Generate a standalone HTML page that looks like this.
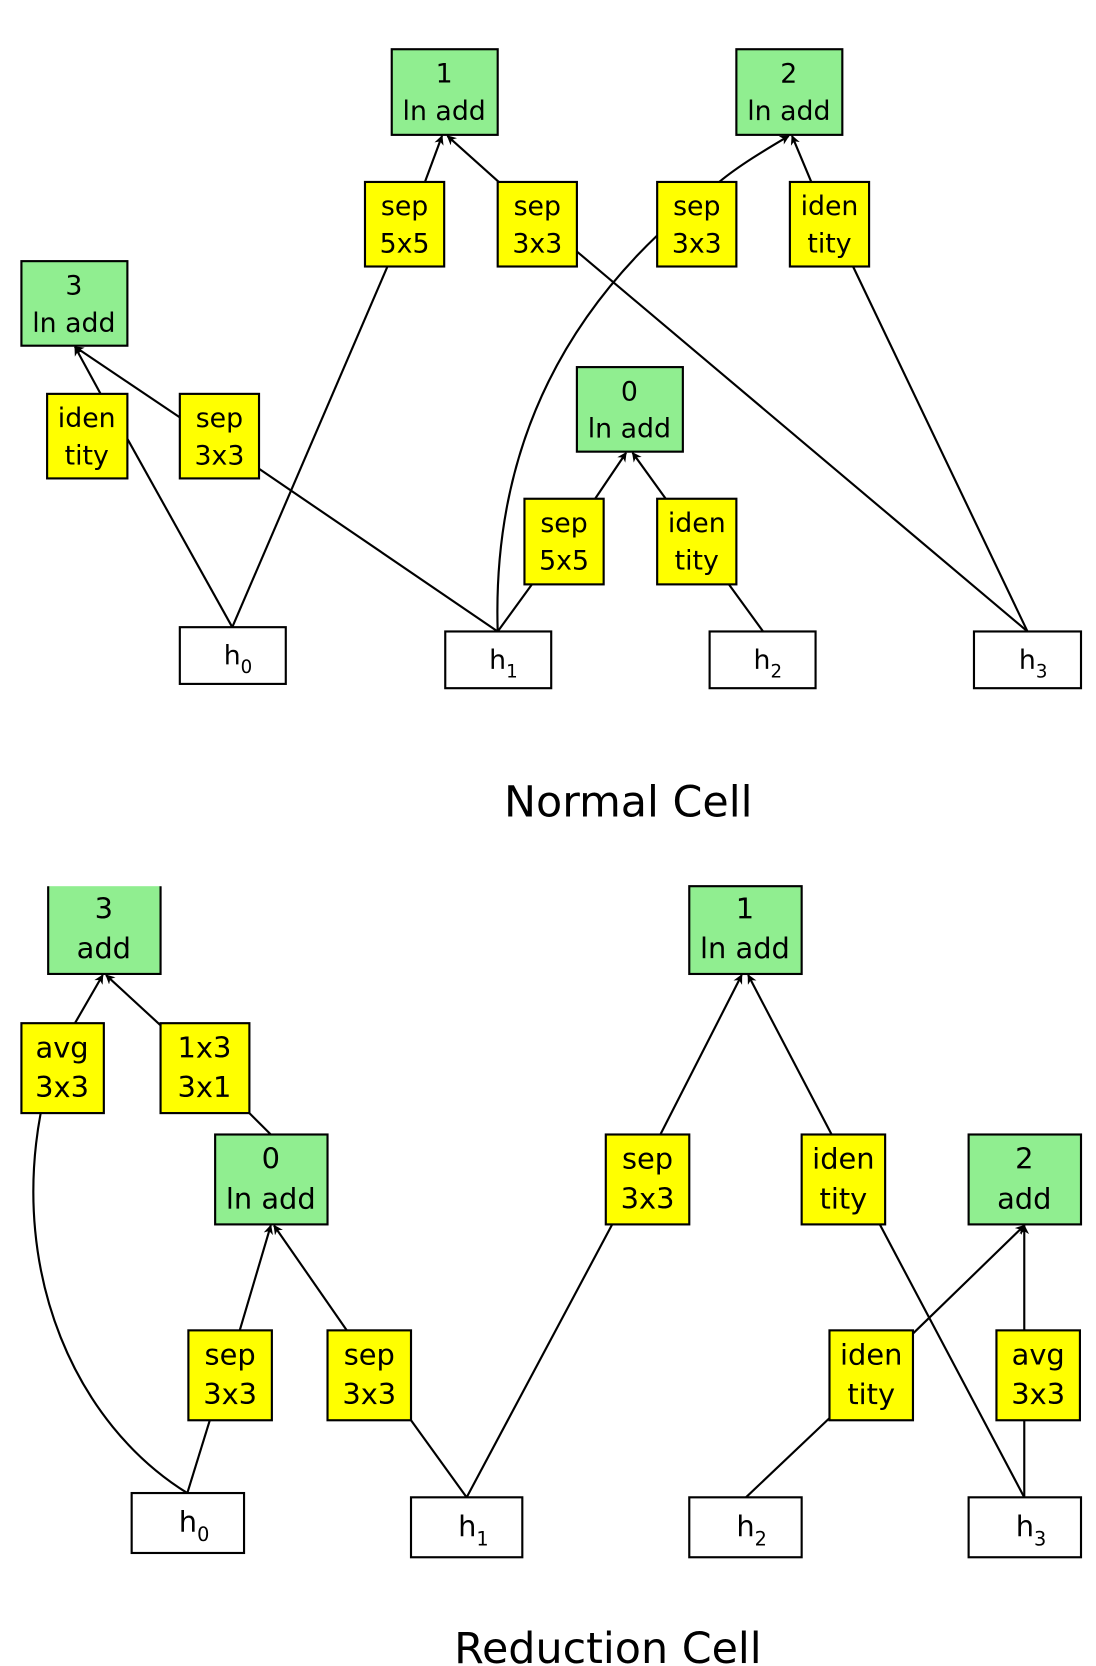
<!DOCTYPE html>
<html><head><meta charset="utf-8"><style>
html,body{margin:0;padding:0;background:#fff}
svg{display:block}
text{font-family:"DejaVu Sans","Liberation Sans",sans-serif;fill:#000}
</style></head><body>
<svg width="1096" height="1666" viewBox="0 0 1024 1556.6" xmlns="http://www.w3.org/2000/svg">
<defs>
<marker id="a" viewBox="0 0 10 10" refX="9" refY="5" markerWidth="9" markerHeight="9" markerUnits="userSpaceOnUse" orient="auto">
<path d="M0,0 L10,5 L0,10 L3,5 z" fill="#000"/></marker>
</defs>
<g stroke="#000" stroke-width="2" fill="none">
<!-- Normal cell edges -->
<line x1="217" y1="586" x2="119" y2="410"/>
<line x1="94" y1="368" x2="70" y2="324" marker-end="url(#a)"/>
<line x1="217" y1="586" x2="362" y2="249"/>
<line x1="397" y1="170" x2="413" y2="127" marker-end="url(#a)"/>
<line x1="465" y1="590" x2="242" y2="438"/>
<line x1="168" y1="390" x2="70" y2="324" marker-end="url(#a)"/>
<line x1="465" y1="590" x2="497" y2="546"/>
<line x1="556" y1="466" x2="585" y2="423" marker-end="url(#a)"/>
<path d="M465,590 C460,430 520,310 614,220"/>
<path d="M672,170 C690,155 715,140 737,127" marker-end="url(#a)"/>
<line x1="713" y1="590" x2="681" y2="546"/>
<line x1="622" y1="466" x2="591" y2="423" marker-end="url(#a)"/>
<line x1="960" y1="590" x2="539" y2="235"/>
<line x1="466" y1="170" x2="418" y2="127" marker-end="url(#a)"/>
<line x1="960" y1="590" x2="797" y2="249"/>
<line x1="758" y1="170" x2="740" y2="127" marker-end="url(#a)"/>
<!-- Reduction edges -->
<path d="M175,1395 C70,1330 10,1190 38,1040"/>
<line x1="70" y1="956" x2="96" y2="911" marker-end="url(#a)"/>
<line x1="150" y1="958" x2="99" y2="911" marker-end="url(#a)"/>
<line x1="253" y1="1060" x2="233" y2="1040"/>
<line x1="175" y1="1395" x2="196" y2="1327"/>
<line x1="224" y1="1243" x2="253" y2="1145" marker-end="url(#a)"/>
<line x1="436" y1="1399" x2="384" y2="1327"/>
<line x1="324" y1="1243" x2="256" y2="1145" marker-end="url(#a)"/>
<line x1="436" y1="1399" x2="572" y2="1144"/>
<line x1="617" y1="1060" x2="693" y2="911" marker-end="url(#a)"/>
<line x1="957" y1="1399" x2="822" y2="1144"/>
<line x1="777" y1="1060" x2="699" y2="911" marker-end="url(#a)"/>
<line x1="697" y1="1399" x2="775" y2="1325"/>
<line x1="853" y1="1246" x2="957" y2="1145" marker-end="url(#a)"/>
<line x1="957" y1="1399" x2="957" y2="1327"/>
<line x1="957" y1="1243" x2="957" y2="1145" marker-end="url(#a)"/>
</g>
<g stroke="#000" stroke-width="2">
<!-- green normal -->
<rect x="366" y="46" width="99" height="80" fill="#90ee90"/>
<rect x="688" y="46" width="99" height="80" fill="#90ee90"/>
<rect x="20" y="244" width="99" height="79" fill="#90ee90"/>
<rect x="539" y="343" width="99" height="79" fill="#90ee90"/>
<!-- yellow normal -->
<rect x="341" y="170" width="74" height="79" fill="#ffff00"/>
<rect x="465" y="170" width="74" height="79" fill="#ffff00"/>
<rect x="614" y="170" width="74" height="79" fill="#ffff00"/>
<rect x="738" y="170" width="74" height="79" fill="#ffff00"/>
<rect x="44" y="368" width="75" height="79" fill="#ffff00"/>
<rect x="168" y="368" width="74" height="79" fill="#ffff00"/>
<rect x="490" y="466" width="74" height="80" fill="#ffff00"/>
<rect x="614" y="466" width="74" height="80" fill="#ffff00"/>
<!-- white normal -->
<rect x="168" y="586" width="99" height="53" fill="#fff"/>
<rect x="416" y="590" width="99" height="53" fill="#fff"/>
<rect x="663" y="590" width="99" height="53" fill="#fff"/>
<rect x="910" y="590" width="100" height="53" fill="#fff"/>
<!-- reduction -->
<rect x="644" y="828" width="105" height="82" fill="#90ee90"/>
<rect x="201" y="1060" width="105" height="84" fill="#90ee90"/>
<rect x="905" y="1060" width="105" height="84" fill="#90ee90"/>
<rect x="20" y="956" width="77" height="84" fill="#ffff00"/>
<rect x="150" y="956" width="83" height="84" fill="#ffff00"/>
<rect x="566" y="1060" width="78" height="84" fill="#ffff00"/>
<rect x="749" y="1060" width="78" height="84" fill="#ffff00"/>
<rect x="176" y="1243" width="78" height="84" fill="#ffff00"/>
<rect x="306" y="1243" width="78" height="84" fill="#ffff00"/>
<rect x="775" y="1243" width="78" height="84" fill="#ffff00"/>
<rect x="931" y="1243" width="78" height="84" fill="#ffff00"/>
<rect x="123" y="1395" width="105" height="56" fill="#fff"/>
<rect x="384" y="1399" width="104" height="56" fill="#fff"/>
<rect x="644" y="1399" width="105" height="56" fill="#fff"/>
<rect x="905" y="1399" width="105" height="56" fill="#fff"/>
</g>
<!-- G3 reduction without top border -->
<rect x="45" y="828" width="105" height="82" fill="#90ee90"/>
<path d="M45,828 V910 H150 V828" stroke="#000" stroke-width="2" fill="none"/>
<g font-size="25" text-anchor="middle">
<text x="415" y="77">1</text><text x="415" y="112">ln add</text>
<text x="737" y="77">2</text><text x="737" y="112">ln add</text>
<text x="69" y="275">3</text><text x="69" y="310">ln add</text>
<text x="588" y="374">0</text><text x="588" y="409">ln add</text>
<text x="378" y="201">sep</text><text x="378" y="236">5x5</text>
<text x="502" y="201">sep</text><text x="502" y="236">3x3</text>
<text x="651" y="201">sep</text><text x="651" y="236">3x3</text>
<text x="775" y="201">iden</text><text x="775" y="236">tity</text>
<text x="81" y="399">iden</text><text x="81" y="434">tity</text>
<text x="205" y="399">sep</text><text x="205" y="434">3x3</text>
<text x="527" y="497">sep</text><text x="527" y="532">5x5</text>
<text x="651" y="497">iden</text><text x="651" y="532">tity</text>
</g>
<g font-size="27" text-anchor="middle">
<text x="97" y="858">3</text><text x="97" y="895">add</text>
<text x="696" y="858">1</text><text x="696" y="895">ln add</text>
<text x="253" y="1092">0</text><text x="253" y="1129">ln add</text>
<text x="957" y="1092">2</text><text x="957" y="1129">add</text>
<text x="58" y="988">avg</text><text x="58" y="1025">3x3</text>
<text x="191" y="988">1x3</text><text x="191" y="1025">3x1</text>
<text x="605" y="1092">sep</text><text x="605" y="1129">3x3</text>
<text x="788" y="1092">iden</text><text x="788" y="1129">tity</text>
<text x="215" y="1275">sep</text><text x="215" y="1312">3x3</text>
<text x="345" y="1275">sep</text><text x="345" y="1312">3x3</text>
<text x="814" y="1275">iden</text><text x="814" y="1312">tity</text>
<text x="970" y="1275">avg</text><text x="970" y="1312">3x3</text>
</g>
<g font-size="25">
<text x="209" y="621">h<tspan font-size="17" dy="8">0</tspan></text>
<text x="457" y="625">h<tspan font-size="17" dy="8">1</tspan></text>
<text x="704" y="625">h<tspan font-size="17" dy="8">2</tspan></text>
<text x="952" y="625">h<tspan font-size="17" dy="8">3</tspan></text>
</g>
<g font-size="27">
<text x="167" y="1431">h<tspan font-size="18" dy="9">0</tspan></text>
<text x="428" y="1435">h<tspan font-size="18" dy="9">1</tspan></text>
<text x="688" y="1435">h<tspan font-size="18" dy="9">2</tspan></text>
<text x="949" y="1435">h<tspan font-size="18" dy="9">3</tspan></text>
</g>
<text x="587" y="763" font-size="40" text-anchor="middle">Normal Cell</text>
<text x="568" y="1554" font-size="40" text-anchor="middle">Reduction Cell</text>
</svg>
</body></html>
